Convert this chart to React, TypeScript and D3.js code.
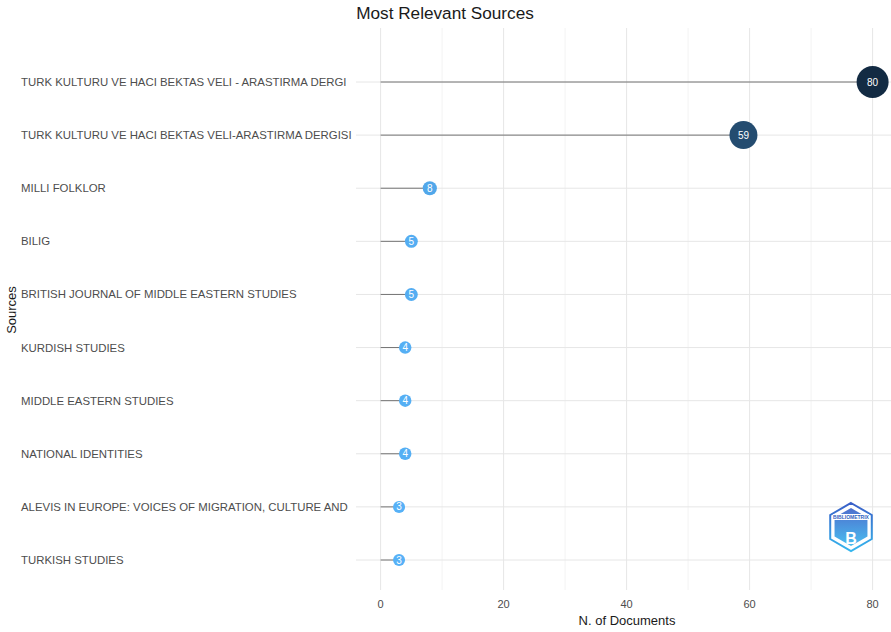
import React from "react";
import * as d3 from "d3";

const sources = [
  "TURK KULTURU VE HACI BEKTAS VELI - ARASTIRMA DERGI",
  "TURK KULTURU VE HACI BEKTAS VELI-ARASTIRMA DERGISI",
  "MILLI FOLKLOR",
  "BILIG",
  "BRITISH JOURNAL OF MIDDLE EASTERN STUDIES",
  "KURDISH STUDIES",
  "MIDDLE EASTERN STUDIES",
  "NATIONAL IDENTITIES",
  "ALEVIS IN EUROPE: VOICES OF MIGRATION, CULTURE AND",
  "TURKISH STUDIES",
];
const documents = [80, 59, 8, 5, 5, 4, 4, 4, 3, 3];
const xTicks = [0, 20, 40, 60, 80];
const xMinor = [10, 30, 50, 70];

const W = 891;
const H = 632;
const panel = { left: 356, right: 891, top: 28, bottom: 590 };

export default function App() {
  const x = d3.scaleLinear().domain([-4, 84]).range([panel.left, panel.left + 88 * 6.15]);
  const y = d3.scalePoint<string>().domain(sources).range([82, 560]);
  const cy = (s: string) => y(s) as number;
  const area = d3.scaleLinear().domain([3, 80]).range([36, 256]);
  const color = d3
    .scaleLinear<string>()
    .domain([3, 80])
    .range(["#56B1F7", "#132B43"])
    .interpolate(d3.interpolateLab);

  const hex = (cx: number, cyy: number, r: number) =>
    d3.range(6)
      .map((i) => {
        const a = (Math.PI / 3) * i - Math.PI / 2;
        return `${cx + r * Math.cos(a)},${cyy + r * Math.sin(a)}`;
      })
      .join(" ");

  return (
    <div style={{ position: "absolute", left: 0, top: 0 }}>
      <svg width={W} height={H} style={{ display: "block", background: "#fff" }} fontFamily="'Liberation Sans', Arial, sans-serif">
        <defs>
          <linearGradient id="logoGrad" x1="0" y1="0" x2="0" y2="1">
            <stop offset="0%" stopColor="#3a5fc8" />
            <stop offset="100%" stopColor="#35b6ee" />
          </linearGradient>
          <clipPath id="panelClip">
            <rect x={panel.left} y={panel.top} width={panel.right - panel.left} height={panel.bottom - panel.top} />
          </clipPath>
        </defs>
        <text x={445} y={19} textAnchor="middle" fontSize={17.2} fill="#1a1a1a">
          Most Relevant Sources
        </text>
        <g clipPath="url(#panelClip)">
          {xMinor.map((t) => (
            <line key={"m" + t} x1={x(t)} x2={x(t)} y1={panel.top} y2={panel.bottom} stroke="#f0f0f0" strokeWidth={0.8} />
          ))}
          {xTicks.map((t) => (
            <line key={"g" + t} x1={x(t)} x2={x(t)} y1={panel.top} y2={panel.bottom} stroke="#e6e6e6" strokeWidth={1} />
          ))}
          {sources.map((s) => (
            <line key={"h" + s} x1={panel.left} x2={panel.right} y1={cy(s)} y2={cy(s)} stroke="#e6e6e6" strokeWidth={1} />
          ))}
        </g>
        {sources.map((s, i) => (
          <line key={"s" + s} x1={x(0)} x2={x(documents[i])} y1={cy(s)} y2={cy(s)} stroke="#555" strokeWidth={0.8} />
        ))}
        {sources.map((s, i) => {
          const v = documents[i];
          return (
            <g key={"p" + s}>
              <circle cx={x(v)} cy={cy(s)} r={Math.sqrt(area(v))} fill={color(v)} />
              <text x={x(v)} y={cy(s)} dy="0.35em" textAnchor="middle" fontSize={10} fill="#fff">
                {v}
              </text>
            </g>
          );
        })}
        {sources.map((s) => (
          <text key={"l" + s} x={21} y={cy(s)} dy="0.35em" fontSize={11.4} fill="#4d4d4d">
            {s}
          </text>
        ))}
        {xTicks.map((t) => (
          <text key={"t" + t} x={x(t)} y={608} textAnchor="middle" fontSize={11} fill="#4d4d4d">
            {t}
          </text>
        ))}
        <text x={627} y={625} textAnchor="middle" fontSize={13} fill="#1a1a1a">
          N. of Documents
        </text>
        <text transform={`translate(16,310) rotate(-90)`} textAnchor="middle" fontSize={13} fill="#1a1a1a">
          Sources
        </text>
        <g>
          <polygon points={hex(851, 527, 24)} fill="#fff" stroke="url(#logoGrad)" strokeWidth={2} />
          <polygon points={hex(851, 527, 19)} fill="url(#logoGrad)" opacity={0.9} />
          <rect x={833} y={514} width={36} height={6} fill="#fff" />
          <text x={851} y={519} textAnchor="middle" fontSize={5} fill="#2f5fc0" fontWeight="bold">
            BIBLIOMETRIX
          </text>
          <text x={851} y={544} textAnchor="middle" fontSize={16} fill="#fff" fontWeight="bold">
            B
          </text>
        </g>
      </svg>
    </div>
  );
}
